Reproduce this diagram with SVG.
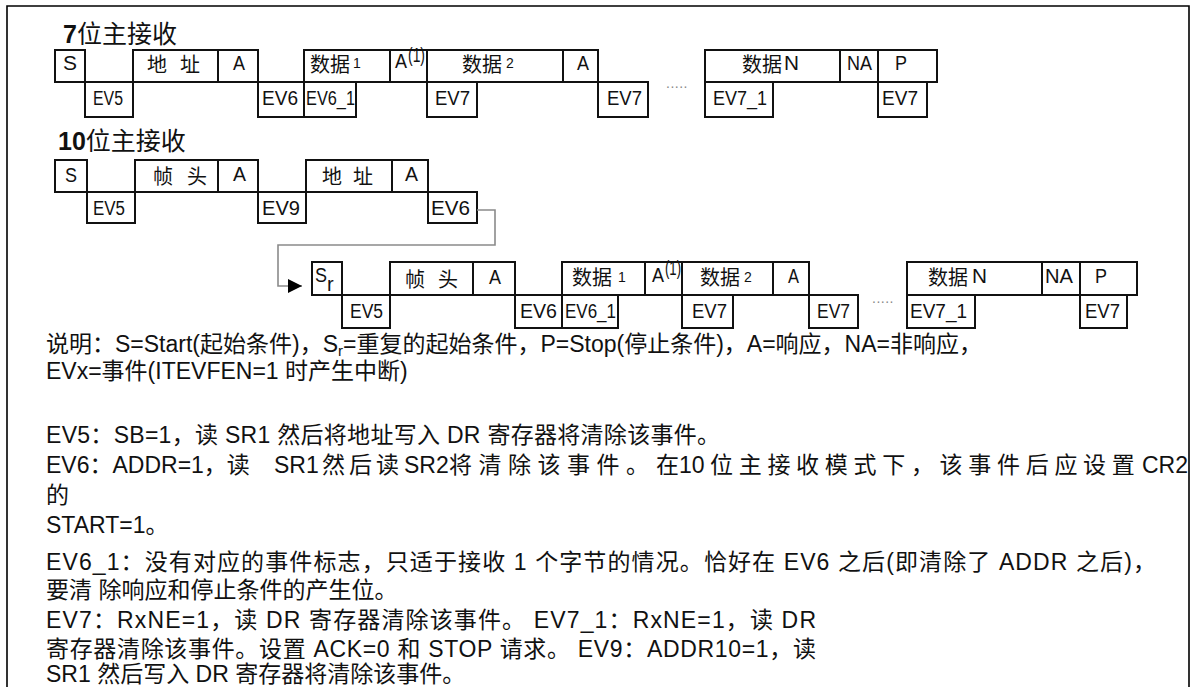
<svg xmlns="http://www.w3.org/2000/svg" width="1196" height="687" viewBox="0 0 1196 687">
<style>
.frame{fill:none;stroke:#000;stroke-width:1.6}
.box{fill:#fff;stroke:#111;stroke-width:2}
.lb{font-family:"Liberation Sans",Arial,sans-serif;font-size:20px;fill:#111}
.sm{font-size:14px}
.cj{font-family:"Noto Sans CJK SC",sans-serif;font-size:20px;fill:#111}
.ttl{font-family:"Liberation Sans","Noto Sans CJK SC",sans-serif;font-size:25px;fill:#111}
.ttl .b{font-weight:bold}
.body{font-family:"Liberation Sans","Noto Sans CJK SC",sans-serif;font-size:23px;fill:#111}
.dots{font-family:"Liberation Sans",sans-serif;font-size:14px;fill:#888;letter-spacing:0.5px}
.conn{fill:none;stroke:#8a8a8a;stroke-width:1.6}
</style>
<defs>
<marker id="arr" markerUnits="userSpaceOnUse" markerWidth="15" markerHeight="14" refX="14" refY="7" orient="auto">
<path d="M0,0 L14,7 L0,14 Z" fill="#000"/>
</marker>
</defs>
<rect width="1196" height="687" fill="#fff"/>
<path class="frame" d="M7,690 V6 H1189 V690"/>

<text class="ttl" x="63" y="43"><tspan class="b">7</tspan>位主接收</text>
<text class="ttl" x="58" y="150"><tspan class="b">10</tspan>位主接收</text>

<g id="row1">
<g id="r1-s"><rect class="box" x="55" y="50" width="30" height="32"/><text class="lb" x="63" y="70" textLength="14" lengthAdjust="spacingAndGlyphs">S</text></g>
<g id="r1-ev5"><rect class="box" x="85" y="82" width="48" height="35"/><text class="lb" x="93" y="105" textLength="30" lengthAdjust="spacingAndGlyphs">EV5</text></g>
<g id="r1-addr"><rect class="box" x="133" y="50" width="85" height="32"/><text class="cj" x="147" y="72" textLength="53" lengthAdjust="spacing">地 址</text></g>
<g id="r1-a1"><rect class="box" x="218" y="50" width="40" height="32"/><text class="lb" x="233" y="70" textLength="12" lengthAdjust="spacingAndGlyphs">A</text></g>
<g id="r1-ev6"><rect class="box" x="258" y="82" width="46" height="35"/><text class="lb" x="262" y="105" textLength="36" lengthAdjust="spacingAndGlyphs">EV6</text></g>
<g id="r1-d1"><rect class="box" x="304" y="50" width="86" height="32"/><text class="cj" x="310" y="72">数据</text><text class="lb sm" x="353" y="68">1</text></g>
<g id="r1-ev6_1"><rect class="box" x="304" y="82" width="52" height="35"/><text class="lb" x="306" y="105" textLength="49" lengthAdjust="spacingAndGlyphs">EV6_1</text></g>
<g id="r1-a2"><rect class="box" x="390" y="50" width="37" height="32"/><text class="lb" x="395" y="68" textLength="12" lengthAdjust="spacingAndGlyphs">A</text><text class="lb" x="408" y="62" font-size="12" textLength="17" lengthAdjust="spacingAndGlyphs">(1)</text></g>
<g id="r1-d2"><rect class="box" x="427" y="50" width="136" height="32"/><text class="cj" x="462" y="72">数据</text><text class="lb sm" x="506" y="68">2</text></g>
<g id="r1-a3"><rect class="box" x="563" y="50" width="35" height="32"/><text class="lb" x="577" y="70" textLength="12" lengthAdjust="spacingAndGlyphs">A</text></g>
<g id="r1-ev7a"><rect class="box" x="427" y="82" width="50" height="35"/><text class="lb" x="435" y="105" textLength="35" lengthAdjust="spacingAndGlyphs">EV7</text></g>
<g id="r1-ev7b"><rect class="box" x="598" y="82" width="50" height="35"/><text class="lb" x="607" y="105" textLength="35" lengthAdjust="spacingAndGlyphs">EV7</text></g>
<text class="dots" x="666" y="88">.....</text>
<g id="r1-dn"><rect class="box" x="705" y="50" width="135" height="32"/><text class="cj" x="742" y="72">数据</text><text class="lb" x="784" y="70" textLength="15" lengthAdjust="spacingAndGlyphs">N</text></g>
<g id="r1-na"><rect class="box" x="840" y="50" width="38" height="32"/><text class="lb" x="847" y="70" textLength="25" lengthAdjust="spacingAndGlyphs">NA</text></g>
<g id="r1-p"><rect class="box" x="878" y="50" width="59" height="32"/><text class="lb" x="895" y="70" textLength="12" lengthAdjust="spacingAndGlyphs">P</text></g>
<g id="r1-ev7_1"><rect class="box" x="705" y="82" width="68" height="35"/><text class="lb" x="713" y="105" textLength="54" lengthAdjust="spacingAndGlyphs">EV7_1</text></g>
<g id="r1-ev7c"><rect class="box" x="878" y="82" width="49" height="35"/><text class="lb" x="882" y="105" textLength="36" lengthAdjust="spacingAndGlyphs">EV7</text></g>
</g>

<g id="row2">
<g id="r2-s"><rect class="box" x="55" y="160" width="32" height="32"/><text class="lb" x="65" y="182" textLength="12" lengthAdjust="spacingAndGlyphs">S</text></g>
<g id="r2-ev5"><rect class="box" x="87" y="192" width="48" height="31"/><text class="lb" x="93" y="215" textLength="32" lengthAdjust="spacingAndGlyphs">EV5</text></g>
<g id="r2-hdr"><rect class="box" x="135" y="160" width="83" height="32"/><text class="cj" x="153" y="184" textLength="54" lengthAdjust="spacing">帧 头</text></g>
<g id="r2-a1"><rect class="box" x="218" y="160" width="40" height="32"/><text class="lb" x="233" y="181" textLength="13" lengthAdjust="spacingAndGlyphs">A</text></g>
<g id="r2-ev9"><rect class="box" x="258" y="192" width="48" height="31"/><text class="lb" x="262" y="215" textLength="38" lengthAdjust="spacingAndGlyphs">EV9</text></g>
<g id="r2-addr"><rect class="box" x="306" y="160" width="86" height="32"/><text class="cj" x="322" y="184" textLength="51" lengthAdjust="spacing">地 址</text></g>
<g id="r2-a2"><rect class="box" x="392" y="160" width="36" height="32"/><text class="lb" x="405" y="181" textLength="13" lengthAdjust="spacingAndGlyphs">A</text></g>
<g id="r2-ev6"><rect class="box" x="428" y="192" width="49" height="31"/><text class="lb" x="431" y="215" textLength="39" lengthAdjust="spacingAndGlyphs">EV6</text></g>
</g>

<g id="connectors">
<path class="conn" d="M477,210 H495 V245 H278 V286 H302" marker-end="url(#arr)"/>
</g>

<g id="row3">
<g id="sr-s"><rect class="box" x="312" y="262" width="30" height="33"/><text class="lb" x="315" y="282" textLength="12" lengthAdjust="spacingAndGlyphs">S</text><text class="lb" x="327" y="291" font-size="13">r</text></g>
<g id="sr-ev5"><rect class="box" x="342" y="295" width="48" height="33"/><text class="lb" x="350" y="318" textLength="33" lengthAdjust="spacingAndGlyphs">EV5</text></g>
<g id="sr-hdr"><rect class="box" x="390" y="262" width="83" height="33"/><text class="cj" x="405" y="287" textLength="53" lengthAdjust="spacing">帧 头</text></g>
<g id="sr-a1"><rect class="box" x="473" y="262" width="42" height="33"/><text class="lb" x="489" y="284" textLength="12" lengthAdjust="spacingAndGlyphs">A</text></g>
<g id="sr-ev6"><rect class="box" x="515" y="295" width="47" height="33"/><text class="lb" x="520" y="318" textLength="37" lengthAdjust="spacingAndGlyphs">EV6</text></g>
<g id="sr-d1"><rect class="box" x="562" y="262" width="83" height="33"/><text class="cj" x="572" y="285">数据</text><text class="lb sm" x="618" y="282">1</text></g>
<g id="sr-ev6_1"><rect class="box" x="562" y="295" width="56" height="33"/><text class="lb" x="565" y="318" textLength="51" lengthAdjust="spacingAndGlyphs">EV6_1</text></g>
<g id="sr-a2"><rect class="box" x="645" y="262" width="37" height="33"/><text class="lb" x="652" y="282" textLength="12" lengthAdjust="spacingAndGlyphs">A</text><text class="lb" x="665" y="275" font-size="12" textLength="16" lengthAdjust="spacingAndGlyphs">(1)</text></g>
<g id="sr-d2"><rect class="box" x="682" y="262" width="91" height="33"/><text class="cj" x="700" y="285">数据</text><text class="lb sm" x="744" y="282">2</text></g>
<g id="sr-ev7a"><rect class="box" x="682" y="295" width="51" height="33"/><text class="lb" x="692" y="318" textLength="35" lengthAdjust="spacingAndGlyphs">EV7</text></g>
<g id="sr-a3"><rect class="box" x="773" y="262" width="36" height="33"/><text class="lb" x="788" y="283" textLength="11" lengthAdjust="spacingAndGlyphs">A</text></g>
<g id="sr-ev7b"><rect class="box" x="809" y="295" width="49" height="33"/><text class="lb" x="817" y="318" textLength="33" lengthAdjust="spacingAndGlyphs">EV7</text></g>
<text class="dots" x="872" y="303">.....</text>
<g id="sr-dn"><rect class="box" x="907" y="262" width="135" height="33"/><text class="cj" x="928" y="285">数据</text><text class="lb" x="972" y="283" textLength="15" lengthAdjust="spacingAndGlyphs">N</text></g>
<g id="sr-na"><rect class="box" x="1042" y="262" width="38" height="33"/><text class="lb" x="1045" y="283" textLength="28" lengthAdjust="spacingAndGlyphs">NA</text></g>
<g id="sr-p"><rect class="box" x="1080" y="262" width="57" height="33"/><text class="lb" x="1095" y="283" textLength="12" lengthAdjust="spacingAndGlyphs">P</text></g>
<g id="sr-ev7_1"><rect class="box" x="907" y="295" width="68" height="33"/><text class="lb" x="910" y="318" textLength="57" lengthAdjust="spacingAndGlyphs">EV7_1</text></g>
<g id="sr-ev7c"><rect class="box" x="1080" y="295" width="47" height="33"/><text class="lb" x="1085" y="318" textLength="35" lengthAdjust="spacingAndGlyphs">EV7</text></g>
</g>

<g id="notes">
<text class="body" x="46" y="352">说明：S=Start(起始条件)，S<tspan font-size="15" dy="4">r</tspan><tspan dy="-4">=重复的起始条件，P=Stop(停止条件)，A=响应，NA=非响应，</tspan></text>
<text class="body" x="46" y="379">EVx=事件(ITEVFEN=1 时产生中断)</text>
<text class="body" x="46" y="443" textLength="674" lengthAdjust="spacing">EV5：SB=1，读 SR1 然后将地址写入 DR 寄存器将清除该事件。</text>
<text class="body" y="473"><tspan x="46">EV6：ADDR=1，读 </tspan><tspan x="274">SR1</tspan><tspan x="322" letter-spacing="4">然后读</tspan><tspan x="404">SR2</tspan><tspan x="449" letter-spacing="6.5">将清除该事件。</tspan><tspan x="656">在</tspan><tspan x="679">10</tspan><tspan x="710" letter-spacing="5.7">位主接收模式下，该事件后应设置</tspan><tspan x="1142">CR2</tspan></text>
<text class="body" x="46" y="503">的</text>
<text class="body" x="46" y="533">START=1。</text>
<text class="body" x="46" y="570" textLength="1110" lengthAdjust="spacing">EV6_1：没有对应的事件标志，只适于接收 1 个字节的情况。恰好在 EV6 之后(即清除了 ADDR 之后)，</text>
<text class="body" x="46" y="598">要清 除响应和停止条件的产生位。</text>
<text class="body" x="46" y="628" textLength="770" lengthAdjust="spacing">EV7：RxNE=1，读 DR 寄存器清除该事件。 EV7_1：RxNE=1，读 DR</text>
<text class="body" x="46" y="657" textLength="770" lengthAdjust="spacing">寄存器清除该事件。设置 ACK=0 和 STOP 请求。 EV9：ADDR10=1，读</text>
<text class="body" x="46" y="682">SR1 然后写入 DR 寄存器将清除该事件。</text>
</g>
</svg>
